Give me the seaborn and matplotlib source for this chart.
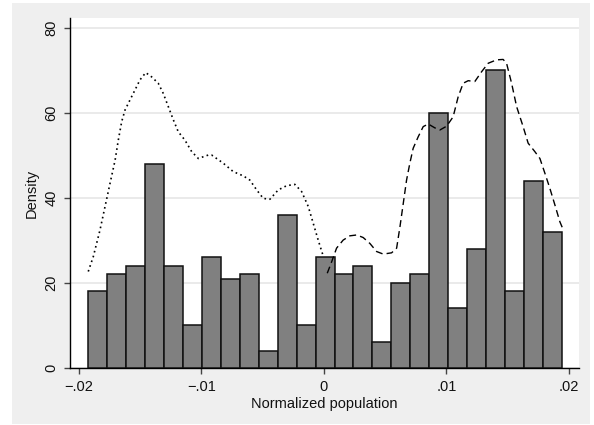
import numpy as np
import pandas as pd
import seaborn as sns
import matplotlib.pyplot as plt
from matplotlib.patches import Rectangle

# histogram: 25 bins, heights
bin_start = -0.01921
bin_width = 0.001545
heights = [18, 22, 24, 48, 24, 10, 26, 21, 22, 4, 36, 10, 26,
           22, 24, 6, 20, 22, 60, 14, 28, 70, 18, 44, 32]

# density curve for negative side (dotted)
neg_x = [-0.01922, -0.01881, -0.01826, -0.01785, -0.01744, -0.01703, -0.01677,
         -0.01649, -0.01622, -0.01581, -0.01541, -0.01500, -0.01453, -0.01405,
         -0.01351, -0.01310, -0.01269, -0.01228, -0.01188, -0.01133, -0.01078,
         -0.01024, -0.00943, -0.00915, -0.00821, -0.00739, -0.00657, -0.00603,
         -0.00548, -0.00494, -0.00440, -0.00372, -0.00303, -0.00236, -0.00181,
         -0.00127, -0.00086, -0.00046, -0.00010]
neg_y = [22.7, 26.2, 32.5, 38.0, 43.5, 48.9, 53.6,
         58.0, 60.7, 63.1, 65.4, 67.8, 69.5, 68.5,
         67.0, 64.6, 61.5, 58.4, 55.6, 53.6, 50.9,
         49.3, 50.1, 50.1, 48.2, 46.2, 45.2, 44.2,
         41.9, 39.9, 39.7, 41.9, 42.9, 43.2, 41.5,
         38.0, 34.0, 30.1, 26.8]

# density curve for positive side (dashed)
pos_x = [0.00028, 0.00064, 0.00104, 0.00158, 0.00213, 0.00268, 0.00321, 0.00376,
         0.00431, 0.00485, 0.00553, 0.00594, 0.00621, 0.00648, 0.00675, 0.00702,
         0.00729, 0.00770, 0.00811, 0.00852, 0.00906, 0.00947, 0.01002, 0.01055,
         0.01096, 0.01137, 0.01178, 0.01232, 0.01287, 0.01341, 0.01409, 0.01463,
         0.01491, 0.01532, 0.01573, 0.01626, 0.01667, 0.01722, 0.01763, 0.01804,
         0.01844, 0.01885, 0.01926, 0.01948]
pos_y = [22.3, 25.0, 28.2, 30.1, 31.1, 31.3, 30.7, 29.3,
         27.4, 26.8, 27.1, 28.2, 33.2, 38.7, 44.2, 48.2,
         51.7, 54.4, 56.8, 57.4, 56.5, 56.0, 56.9, 59.1,
         63.8, 67.0, 67.6, 67.4, 69.7, 71.7, 72.5, 72.6,
         71.7, 67.0, 61.5, 56.8, 52.9, 50.9, 49.3, 45.8,
         42.3, 38.4, 34.4, 32.9]

x_ticks = [-0.02, -0.01, 0, 0.01, 0.02]
x_ticklabels = ['\u2212.02', '\u2212.01', '0', '.01', '.02']
y_ticks = [0, 20, 40, 60, 80]

sns.set_style('white')
plt.rcParams['font.family'] = ['Liberation Sans', 'DejaVu Sans']

edges = [bin_start + bin_width * i for i in range(len(heights) + 1)]
centers = [(edges[i] + edges[i + 1]) / 2 for i in range(len(heights))]
df_hist = pd.DataFrame({'x': centers, 'h': heights})
df_neg = pd.DataFrame({'x': neg_x, 'y': neg_y})
df_pos = pd.DataFrame({'x': pos_x, 'y': pos_y})

fig = plt.figure(figsize=(5.94, 4.25), dpi=100)
fig.patch.set_facecolor('white')
# grey outer graph region (Stata style)
fig.add_artist(Rectangle((12 / 594, 1 / 425), 578 / 594, 421 / 425,
                         transform=fig.transFigure, facecolor='#efefef',
                         edgecolor='none', zorder=0))
ax = fig.add_axes([70 / 594, 1 - 368 / 425, 509 / 594, 350 / 425])
ax.set_facecolor('white')

sns.histplot(data=df_hist, x='x', weights='h', bins=edges, stat='count',
             color='#808080', edgecolor='#111111', linewidth=1.1, alpha=1,
             ax=ax, zorder=3)
sns.lineplot(data=df_neg, x='x', y='y', estimator=None, sort=False, color='black',
             linestyle=(0, (1, 2)), linewidth=1.2, ax=ax, zorder=4)
sns.lineplot(data=df_pos, x='x', y='y', estimator=None, sort=False, color='black',
             linestyle=(0, (5, 3)), linewidth=1.0, ax=ax, zorder=4)

ax.set_xlim(-0.02071, 0.02082)
ax.set_ylim(0, 82.35)
ax.set_xticks(x_ticks)
ax.set_xticklabels(x_ticklabels)
ax.set_yticks(y_ticks)
ax.set_yticklabels([str(v) for v in y_ticks], rotation=90, va='center')
ax.yaxis.grid(True, color='#e6e6e6', linewidth=1.2, zorder=0)
ax.set_axisbelow(True)

for s in ['top', 'right']:
    ax.spines[s].set_visible(False)
for s in ['left', 'bottom']:
    ax.spines[s].set_color('black')
    ax.spines[s].set_linewidth(1.0)

ax.tick_params(axis='both', direction='out', length=4.5, width=1, color='#444444',
               labelsize=10.5, labelcolor='#111111', pad=4)
ax.tick_params(axis='y', left=True)
ax.tick_params(axis='x', bottom=True)
ax.set_xlabel('Normalized population', fontsize=10.5, color='#111111', labelpad=2)
ax.set_ylabel('Density', fontsize=10.5, color='#111111', labelpad=4)

fig.savefig('out.png', dpi=100)
